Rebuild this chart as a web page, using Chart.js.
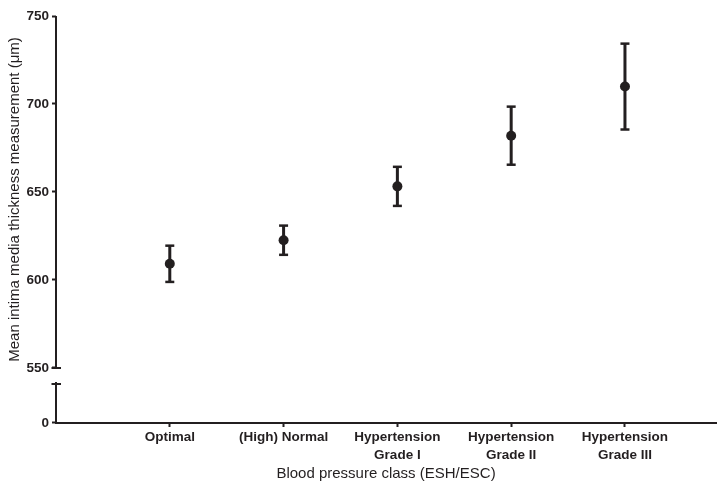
<!DOCTYPE html>
<html>
<head>
<meta charset="utf-8">
<script src="https://cdn.jsdelivr.net/npm/chart.js@4.4.0/dist/chart.umd.min.js"></script>
<style>
html, body { margin: 0; padding: 0; background: #fff; }
#wrap { width: 723px; height: 483px; }
</style>
</head>
<body>
<div id="wrap"><canvas id="imtChart"></canvas></div>
<script>
// mean IMT per blood pressure class, with error bar half-widths
var categories = ['Optimal', '(High) Normal', ['Hypertension', 'Grade I'], ['Hypertension', 'Grade II'], ['Hypertension', 'Grade III']];
var imtMean = [609.2, 622.6, 653.2, 682.0, 709.9];
var imtError = [10.3, 8.3, 11.1, 16.5, 24.4];
var yTicksUpper = [550, 600, 650, 700, 750];
var yTicksLower = [0];

var ink = '#231f20';
Chart.defaults.font.family = "'Liberation Sans', Arial, sans-serif";
Chart.defaults.color = ink;

var whiskers = [], caps = [], means = [];
for (var i = 0; i < imtMean.length; i++) {
    var lo = imtMean[i] - imtError[i], hi = imtMean[i] + imtError[i];
    whiskers.push({ x: i + 1, y: lo }, { x: i + 1, y: hi }, { x: i + 1, y: null });
    caps.push({ x: i + 1, y: lo }, { x: i + 1, y: hi });
    means.push({ x: i + 1, y: imtMean[i] });
}

// broken y axis: draws the upper axis line and the cross marks at the break
var axisBreak = {
    id: 'axisBreak',
    afterDraw: function (chart) {
        var ctx = chart.ctx;
        var up = chart.scales.y, low = chart.scales.yLow;
        var x = Math.round(chart.chartArea.left);
        var yTop = up.getPixelForValue(750), yBrk = up.getPixelForValue(550);
        var yLowTop = low.getPixelForValue(low.max);
        ctx.save();
        ctx.strokeStyle = ink;
        ctx.lineWidth = 2;
        ctx.beginPath();
        ctx.moveTo(x, yTop);
        ctx.lineTo(x, yBrk);
        ctx.moveTo(x - 4.5, yBrk);
        ctx.lineTo(x + 5, yBrk);
        ctx.moveTo(x - 4.5, yLowTop + 1);
        ctx.lineTo(x + 5, yLowTop + 1);
        ctx.stroke();
        ctx.restore();
    }
};

var tickFont = { size: 13.5, weight: 'bold', lineHeight: 1.3 };
var axisGrid = { drawOnChartArea: false, drawTicks: true, tickLength: 4, tickWidth: 2, tickColor: ink, color: ink };

new Chart(document.getElementById('imtChart'), {
    type: 'scatter',
    data: {
        datasets: [{
            data: whiskers,
            yAxisID: 'y',
            showLine: true,
            spanGaps: false,
            borderColor: ink,
            borderWidth: 3,
            pointRadius: 0
        }, {
            data: caps,
            yAxisID: 'y',
            pointStyle: 'line',
            pointRadius: 4.5,
            borderColor: ink,
            borderWidth: 2.5
        }, {
            data: means,
            yAxisID: 'y',
            pointStyle: 'circle',
            pointRadius: 5,
            backgroundColor: ink,
            borderWidth: 0
        }]
    },
    options: {
        responsive: true,
        maintainAspectRatio: false,
        animation: false,
        layout: { padding: { top: 16, right: 3, left: 0, bottom: 0 } },
        plugins: { legend: { display: false }, tooltip: { enabled: false } },
        scales: {
            x: {
                type: 'linear',
                position: 'bottom',
                min: 0,
                max: 5.8,
                afterBuildTicks: function (scale) {
                    scale.ticks = categories.map(function (c, i) { return { value: i + 1 }; });
                },
                afterFit: function (scale) { scale.height = 60; },
                ticks: {
                    autoSkip: false,
                    maxRotation: 0,
                    padding: 2,
                    font: tickFont,
                    callback: function (v, idx) { return categories[idx]; }
                },
                grid: axisGrid,
                border: { display: true, color: ink, width: 2 },
                title: {
                    display: true,
                    text: 'Blood pressure class (ESH/ESC)',
                    font: { size: 15 },
                    padding: { top: 0, bottom: 0 }
                }
            },
            // lower segment below the break, listed first so it sits at the bottom of the stack
            yLow: {
                type: 'linear',
                position: 'left',
                stack: 'left',
                stackWeight: 1,
                min: 0,
                max: 10,
                afterBuildTicks: function (scale) {
                    scale.ticks = yTicksLower.map(function (v) { return { value: v }; });
                },
                afterFit: function (scale) { scale.width = 56; },
                ticks: { padding: 3, font: tickFont },
                grid: axisGrid,
                border: { display: true, color: ink, width: 2 }
            },
            y: {
                type: 'linear',
                position: 'left',
                stack: 'left',
                stackWeight: 9.16,
                min: 541.5,
                max: 750,
                afterBuildTicks: function (scale) {
                    scale.ticks = yTicksUpper.map(function (v) { return { value: v }; });
                },
                afterFit: function (scale) { scale.width = 56; },
                ticks: { padding: 3, font: tickFont },
                grid: axisGrid,
                border: { display: false },
                title: {
                    display: true,
                    text: 'Mean intima media thickness measurement (\u03bcm)',
                    font: { size: 15 },
                    padding: { top: 6, bottom: 0 }
                }
            }
        }
    },
    plugins: [axisBreak]
});
</script>
</body>
</html>
